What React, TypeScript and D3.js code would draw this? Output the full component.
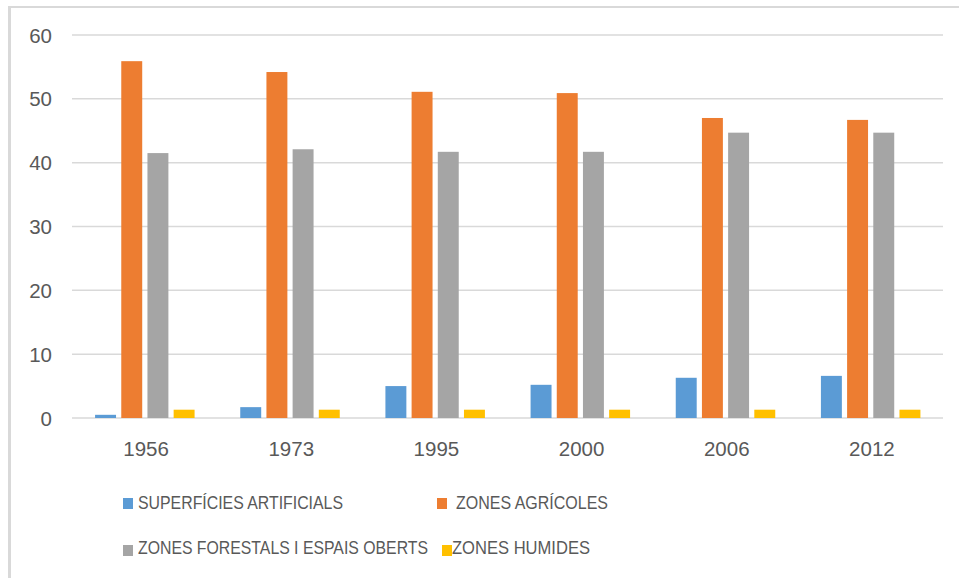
import React from "react";
import * as d3 from "d3";

const categories = ["1956", "1973", "1995", "2000", "2006", "2012"];
const seriesNames = [
  "SUPERFÍCIES ARTIFICIALS",
  "ZONES AGRÍCOLES",
  "ZONES FORESTALS I ESPAIS OBERTS",
  "ZONES HUMIDES",
];
const superficiesArtificials = [0.5, 1.7, 5.0, 5.2, 6.3, 6.6];
const zonesAgricoles = [55.9, 54.2, 51.1, 50.9, 47.0, 46.7];
const zonesForestals = [41.5, 42.1, 41.7, 41.7, 44.7, 44.7];
const zonesHumides = [1.3, 1.3, 1.3, 1.3, 1.3, 1.3];
const yTicks = [0, 10, 20, 30, 40, 50, 60];
const colors = ["#5b9bd5", "#ed7d31", "#a5a5a5", "#ffc000"];

const seriesValues = [superficiesArtificials, zonesAgricoles, zonesForestals, zonesHumides];

export default function App() {
  const W = 959;
  const H = 578;
  const x0 = d3.scaleBand<string>().domain(categories).range([72, 943]).padding(0);
  const y = d3.scaleLinear().domain([0, 60]).range([418, 35]);
  const inner = d3
    .scaleBand<string>()
    .domain(seriesNames)
    .range([-49.5, 50])
    .paddingInner(0.2)
    .paddingOuter(0);
  const font = "'Liberation Sans', Arial, sans-serif";
  const textColor = "#595959";

  const legendItems = [
    { name: seriesNames[0], color: colors[0], sx: 123, sy: 498, tx: 138, ty: 509, tw: 205 },
    { name: seriesNames[1], color: colors[1], sx: 437, sy: 498, tx: 456, ty: 509, tw: 152 },
    { name: seriesNames[2], color: colors[2], sx: 123, sy: 545, tx: 138, ty: 554, tw: 290 },
    { name: seriesNames[3], color: colors[3], sx: 442, sy: 545, tx: 452, ty: 554, tw: 138 },
  ];

  return (
    <svg
      width={W}
      height={H}
      style={{ position: "absolute", left: 0, top: 0, background: "#fff" }}
      fontFamily={font}
    >
      <rect x={0} y={0} width={W} height={H} fill="#fff" />
      {/* frame */}
      <line x1={9.5} y1={7} x2={9.5} y2={H} stroke="#d9d9d9" strokeWidth={3} />
      <line x1={8} y1={7} x2={W} y2={7} stroke="#d9d9d9" strokeWidth={2} />
      {/* gridlines */}
      {yTicks.map((t) => (
        <line key={t} x1={72} x2={943} y1={y(t)} y2={y(t)} stroke="#d9d9d9" strokeWidth={1.5} />
      ))}
      {/* y labels */}
      {yTicks.map((t) => (
        <text key={t} x={52} y={y(t) + 7.5} textAnchor="end" fontSize={20.5} fill={textColor}>
          {t}
        </text>
      ))}
      {/* bars */}
      {categories.map((c, i) => {
        const cx = (x0(c) as number) + x0.bandwidth() / 2;
        return (
          <g key={c}>
            {seriesNames.map((s, j) => {
              const v = seriesValues[j][i];
              return (
                <rect
                  key={s}
                  x={cx + (inner(s) as number)}
                  y={y(v)}
                  width={inner.bandwidth()}
                  height={y(0) - y(v)}
                  fill={colors[j]}
                />
              );
            })}
            <text x={cx + 1.5} y={456} textAnchor="middle" fontSize={20.5} fill={textColor}>
              {c}
            </text>
          </g>
        );
      })}
      {/* legend */}
      {legendItems.map((it) => (
        <g key={it.name}>
          <rect x={it.sx} y={it.sy} width={10} height={11} fill={it.color} />
          <text
            x={it.tx}
            y={it.ty}
            fontSize={17.5}
            fill={textColor}
            textLength={it.tw}
            lengthAdjust="spacingAndGlyphs"
          >
            {it.name}
          </text>
        </g>
      ))}
    </svg>
  );
}
